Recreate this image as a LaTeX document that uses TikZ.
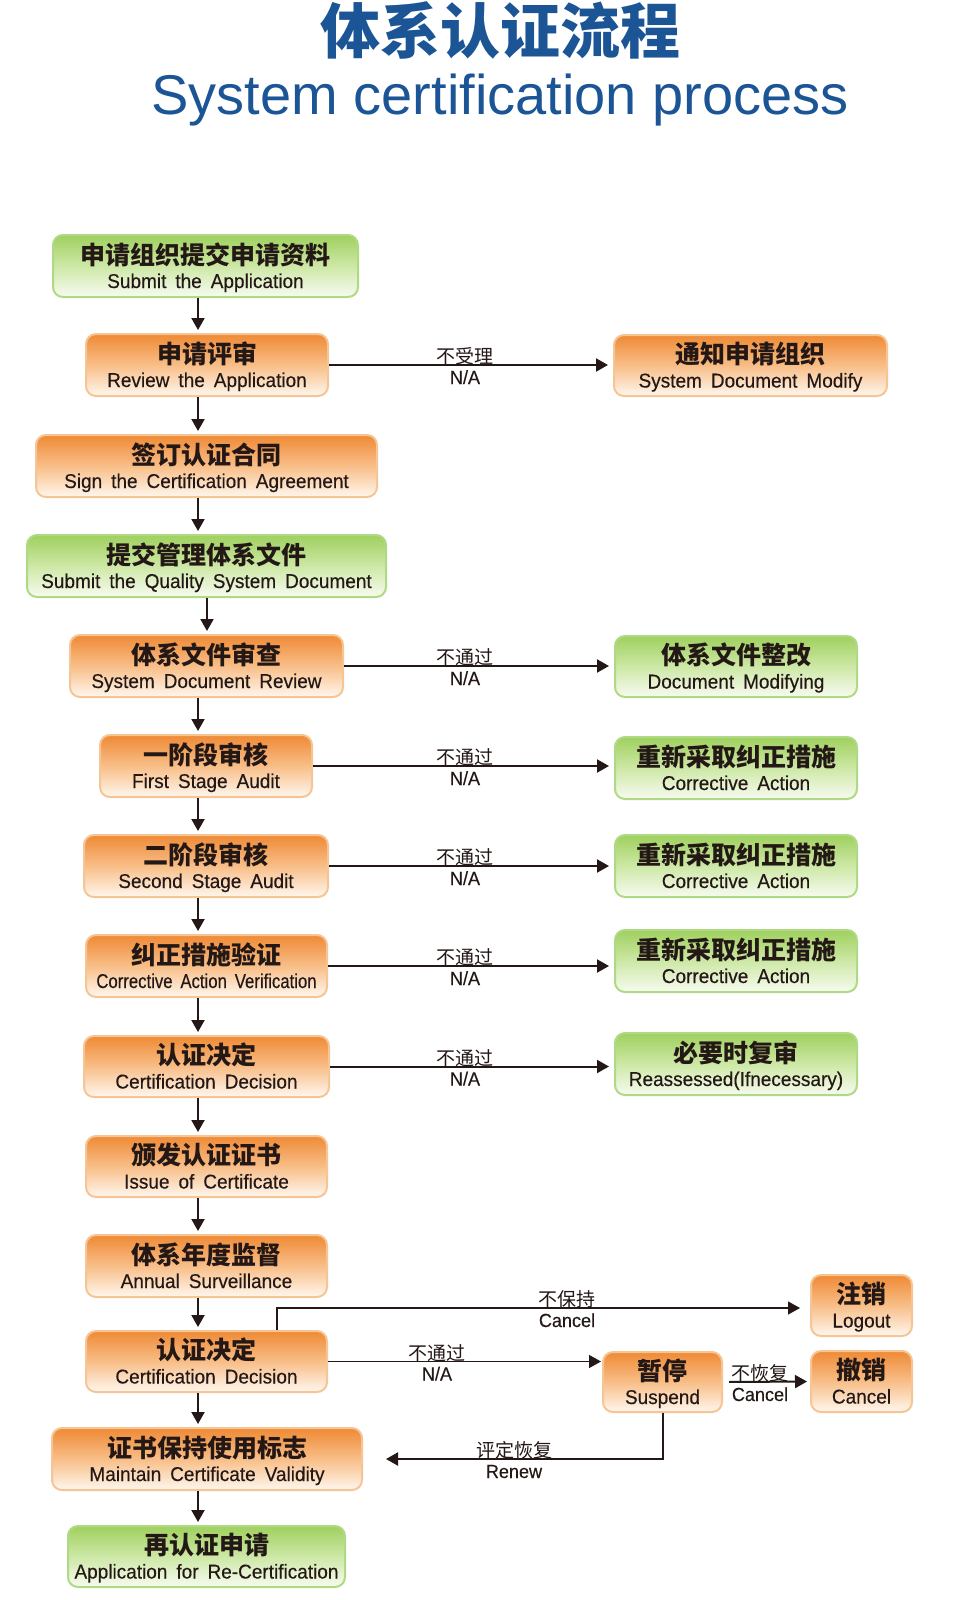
\documentclass[tikz,border=0pt]{standalone}
\usepackage{fontspec}
\usepackage{graphicx}
\usetikzlibrary{fit,calc,arrows.meta}
\newfontfamily\en{Liberation Sans}[WordSpace=1.7,FakeStretch=0.95,FakeBold=0.3]
\newfontfamily\entl{Liberation Sans}
\newfontfamily\zh{Noto Sans CJK SC}
\definecolor{tblue}{HTML}{1B5595}
\definecolor{ink}{HTML}{231815}
\definecolor{otop}{HTML}{EF8A35}
\definecolor{omid}{HTML}{F8BE88}
\definecolor{obot}{HTML}{FFF7EE}
\definecolor{oline}{HTML}{F5C596}
\definecolor{gtop}{HTML}{9FD05E}
\definecolor{gmid}{HTML}{CDE8A6}
\definecolor{gbot}{HTML}{F7FBF0}
\definecolor{gline}{HTML}{B0D985}
\tikzset{
  boxbase/.style={inner sep=0pt, rounded corners=5pt, line width=1pt},
  obox/.style={boxbase, draw=oline, top color=otop, bottom color=obot, middle color=omid},
  gbox/.style={boxbase, draw=gline, top color=gtop, bottom color=gbot, middle color=gmid},
  cnt/.style={inner sep=0pt, anchor=base, text=ink, font=\zh\bfseries\fontsize{12.5}{14}\selectfont},
  ent/.style={inner sep=0pt, anchor=base, text=ink, font=\en\fontsize{10}{12}\selectfont},
  lcn/.style={inner sep=0pt, anchor=base, text=ink, font=\zh\fontsize{9.5}{11}\selectfont},
  len/.style={inner sep=0pt, anchor=base, text=ink, font=\en\fontsize{9.5}{11}\selectfont},
  arr/.style={draw=ink, line width=1pt, -{Triangle[length=6pt,width=6.5pt]}},
  tarr/.style={arr, line width=0.6pt},
}
\newcommand\mkbox[8]{%
  \node[#2, fit={(#3,#4) (#5,#6)}] (#1) {};
  \node[cnt] (#1c) at ($(#1.center)+(0,-2)$) {#7};
  \node[ent] (#1e) at ($(#1.center)+(0,22)$) {#8};
}
\newcommand\mklab[4]{% name, coordinate, cn, en
  \node[lcn] (#1c) at ($(#2)+(0,-1.5)$) {#3};
  \node[len] (#1e) at ($(#2)+(0,19)$) {#4};
}
\begin{document}
\begin{tikzpicture}[x=0.5pt,y=-0.5pt]
\useasboundingbox (0,0) rectangle (955,1600);
\fill[white] (0,0) rectangle (955,1600);

% title
\node[font=\zh\bfseries\fontsize{30}{30}\selectfont, text=tblue, inner sep=0pt, anchor=base] (t1) at (500,54) {体系认证流程};
\node[font=\entl\fontsize{28}{28}\selectfont, text=tblue, inner sep=0pt, anchor=base] (t2) at (500,114) {System certification process};

% left column
\mkbox{b1}{gbox}{53}{235}{358}{297}{申请组织提交申请资料}{Submit the Application}
\mkbox{b2}{obox}{86}{334}{328}{396}{申请评审}{Review the Application}
\mkbox{b3}{obox}{36}{435}{377}{497}{签订认证合同}{Sign the Certification Agreement}
\mkbox{b4}{gbox}{27}{535}{386}{597}{提交管理体系文件}{Submit the Quality System Document}
\mkbox{b5}{obox}{70}{635}{343}{697}{体系文件审查}{System Document Review}
\mkbox{b6}{obox}{100}{735}{312}{797}{一阶段审核}{First Stage Audit}
\mkbox{b7}{obox}{84}{835}{328}{897}{二阶段审核}{Second Stage Audit}
\mkbox{b8}{obox}{86}{935}{327}{997}{纠正措施验证}{\scalebox{0.88}[1]{Corrective Action Verification}}
\mkbox{b9}{obox}{84}{1036}{329}{1097}{认证决定}{Certification Decision}
\mkbox{b10}{obox}{86}{1136}{327}{1197}{颁发认证证书}{Issue of Certificate}
\mkbox{b11}{obox}{86}{1235}{327}{1297}{体系年度监督}{Annual Surveillance}
\mkbox{b12}{obox}{86}{1331}{327}{1392}{认证决定}{Certification Decision}
\mkbox{b13}{obox}{52}{1428}{362}{1490}{证书保持使用标志}{Maintain Certificate Validity}
\mkbox{b14}{gbox}{68}{1526}{345}{1587}{再认证申请}{Application for Re-Certification}

% right column
\mkbox{r2}{obox}{614}{335}{887}{396}{通知申请组织}{System Document Modify}
\mkbox{r5}{gbox}{615}{636}{857}{697}{体系文件整改}{Document Modifying}
\mkbox{r6}{gbox}{615}{737}{857}{799}{重新采取纠正措施}{Corrective Action}
\mkbox{r7}{gbox}{615}{835}{857}{897}{重新采取纠正措施}{Corrective Action}
\mkbox{r8}{gbox}{615}{930}{857}{992}{重新采取纠正措施}{Corrective Action}
\mkbox{r9}{gbox}{615}{1033}{857}{1095}{必要时复审}{Reassessed(Ifnecessary)}

% small boxes
\mkbox{zx}{obox}{811}{1275}{912}{1336}{注销}{Logout}
\mkbox{sp}{obox}{603}{1352}{722}{1412}{暂停}{Suspend}
\mkbox{cx}{obox}{811}{1351}{912}{1412}{撤销}{Cancel}

% vertical arrows
\coordinate (ax) at (198,0);
\coordinate (ax2) at (207,0);
\foreach \a/\b in {b1/b2,b2/b3,b3/b4,b5/b6,b6/b7,b7/b8,b8/b9,b9/b10,b10/b11,b11/b12,b12/b13,b13/b14}{
  \draw[arr, shorten >=1.5pt] (\a.south -| ax) -- (\b.north -| ax);
}
\draw[arr, shorten >=1.5pt] (b4.south -| ax2) -- (b5.north -| ax2);

% horizontal arrows (upper)
\coordinate (lx) at (465,0);
\foreach \a/\b in {b2/r2,b5/r5,b6/r6,b7/r7,b8/r8,b9/r9}{
  \draw[arr, shorten >=2.5pt] (\a.east) -- (\a.east -| \b.west);
}
\mklab{l2}{b2.east -| lx}{不受理}{N/A}
\mklab{l5}{b5.east -| lx}{不通过}{N/A}
\mklab{l6}{b6.east -| lx}{不通过}{N/A}
\mklab{l7}{b7.east -| lx}{不通过}{N/A}
\mklab{l8}{b8.east -| lx}{不通过}{N/A}
\mklab{l9}{b9.east -| lx}{不通过}{N/A}

% bottom part
\coordinate (kx) at (277,0);
\coordinate (ky) at (0,1308);
\draw[tarr, shorten >=5pt] (b12.north -| kx) -- (kx |- ky) -- (ky -| zx.west);
\coordinate (k1) at (567,1308);
\mklab{lk}{k1}{不保持}{Cancel}

\draw[tarr, shorten >=0.5pt] (b12.east) -- (b12.east -| sp.west);
\coordinate (k2) at (437,0);
\mklab{ln}{b12.east -| k2}{不通过}{N/A}

\draw[arr, shorten <=3pt, shorten >=1.5pt] (sp.east) -- (cx.west);
\coordinate (k3) at (760,0);
\mklab{lc}{sp.east -| k3}{不恢复}{Cancel}

\draw[arr, shorten >=11.5pt] (sp.south) |- (b13.east);
\coordinate (k4) at (514,0);
\mklab{lr}{b13.east -| k4}{评定恢复}{Renew}
\end{tikzpicture}
\end{document}
